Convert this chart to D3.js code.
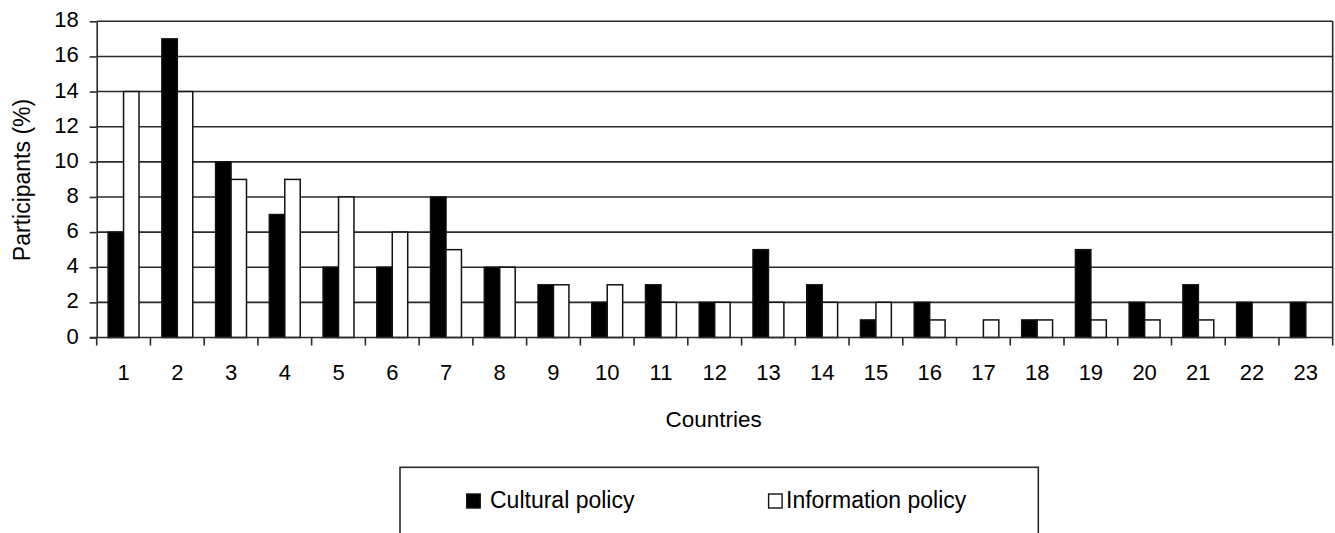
<!DOCTYPE html>
<html>
<head>
<meta charset="utf-8">
<script src="https://cdn.jsdelivr.net/npm/d3@7"></script>
<style>
  html, body { margin: 0; padding: 0; background: #fff; }
  svg { display: block; }
  text { font-family: "Liberation Sans", Arial, sans-serif; fill: #000; }
</style>
</head>
<body>
<svg id="chart" width="1335" height="533"></svg>
<script>
const countries = ["1","2","3","4","5","6","7","8","9","10","11","12","13","14","15","16","17","18","19","20","21","22","23"];
const seriesNames = ["Cultural policy", "Information policy"];
const culturalPolicy    = [6,17,10,7,4,4,8,4,3,2,3,2,5,3,1,2,0,1,5,2,3,2,2];
const informationPolicy = [14,14,9,9,8,6,5,4,3,3,2,2,2,2,2,1,1,1,1,1,1,0,0];
const yTicks = [0,2,4,6,8,10,12,14,16,18];
const yTitle = "Participants (%)";
const xTitle = "Countries";

(function () {
const data = countries.map((c, i) => ({
  country: c,
  values: [
    { series: seriesNames[0], value: culturalPolicy[i] },
    { series: seriesNames[1], value: informationPolicy[i] }
  ]
}));

const svg = d3.select("#chart");
const pL = 96.7, pR = 1332.7, pT = 21.3, pB = 337.5;
const lineColor = "#2a2a2a";

const x0 = d3.scaleBand().domain(countries).range([pL, pR]).paddingInner(0).paddingOuter(0);
const x1 = d3.scaleBand().domain(seriesNames).range([0, x0.bandwidth()]).paddingInner(0).paddingOuter(0.74);
const y = d3.scaleLinear().domain([0, 18]).range([pB, pT]);
const fill = d3.scaleOrdinal().domain(seriesNames).range(["#000000", "#ffffff"]);

// gridlines
svg.append("g").selectAll("line")
  .data(yTicks.filter(d => d > 0))
  .join("line")
  .attr("x1", pL).attr("x2", pR)
  .attr("y1", d => y(d)).attr("y2", d => y(d))
  .attr("stroke", lineColor).attr("stroke-width", 1.6);

// right border
svg.append("line")
  .attr("x1", pR).attr("x2", pR).attr("y1", pT).attr("y2", pB)
  .attr("stroke", lineColor).attr("stroke-width", 1.6);

// bars
const groups = svg.append("g").selectAll("g")
  .data(data).join("g")
  .attr("transform", d => `translate(${x0(d.country)},0)`);

groups.selectAll("rect")
  .data(d => d.values.filter(v => v.value > 0))
  .join("rect")
  .attr("x", d => x1(d.series))
  .attr("width", x1.bandwidth())
  .attr("y", d => y(d.value))
  .attr("height", d => y(0) - y(d.value))
  .attr("fill", d => fill(d.series))
  .attr("stroke", "#111")
  .attr("stroke-width", 1.5);

// y axis
const yAxis = svg.append("g")
  .attr("transform", `translate(${pL},0)`)
  .call(d3.axisLeft(y).tickValues(yTicks).tickSize(7).tickPadding(11).tickSizeOuter(0));
yAxis.select(".domain").attr("stroke", lineColor).attr("stroke-width", 1.6);
yAxis.selectAll(".tick line").attr("stroke", lineColor).attr("stroke-width", 1.6);
yAxis.selectAll(".tick text")
  .style("font-size", "22px")
  .attr("dy", "0.25em");

// x axis line
svg.append("line")
  .attr("x1", pL - 7).attr("x2", pR).attr("y1", pB).attr("y2", pB)
  .attr("stroke", lineColor).attr("stroke-width", 1.6);

// x tick marks at band boundaries
const boundaries = countries.map(c => x0(c)).concat([pR]);
svg.append("g").selectAll("line")
  .data(boundaries).join("line")
  .attr("x1", d => d).attr("x2", d => d)
  .attr("y1", pB).attr("y2", pB + 8)
  .attr("stroke", lineColor).attr("stroke-width", 1.6);

// x labels
const xAxis = svg.append("g")
  .attr("transform", `translate(0,${pB})`)
  .call(d3.axisBottom(x0).tickSize(0).tickPadding(0));
xAxis.select(".domain").remove();
xAxis.selectAll(".tick text")
  .style("font-size", "22px")
  .attr("dy", null)
  .attr("y", 42.5);

// axis titles
svg.append("text")
  .attr("x", (pL + pR) / 2 - 1)
  .attr("y", 426.7)
  .attr("text-anchor", "middle")
  .style("font-size", "22.5px")
  .text(xTitle);

svg.append("text")
  .attr("transform", "translate(29.5,180) rotate(-90)")
  .attr("text-anchor", "middle")
  .style("font-size", "23px")
  .text(yTitle);

// legend
const legend = svg.append("g");
legend.append("rect")
  .attr("x", 400).attr("y", 467.3)
  .attr("width", 638.3).attr("height", 120)
  .attr("fill", "none").attr("stroke", lineColor).attr("stroke-width", 1.6);

const legendItems = [
  { name: seriesNames[0], sx: 466.7, tx: 490 },
  { name: seriesNames[1], sx: 768.6, tx: 786 }
];
legend.selectAll("rect.key")
  .data(legendItems).join("rect")
  .attr("class", "key")
  .attr("x", d => d.sx).attr("y", 494)
  .attr("width", 13.5).attr("height", 14)
  .attr("fill", d => fill(d.name))
  .attr("stroke", "#111").attr("stroke-width", 1.4);
legend.selectAll("text.lbl")
  .data(legendItems).join("text")
  .attr("class", "lbl")
  .attr("x", d => d.tx).attr("y", 508.3)
  .style("font-size", "23px")
  .text(d => d.name);
})();
</script>
</body>
</html>
